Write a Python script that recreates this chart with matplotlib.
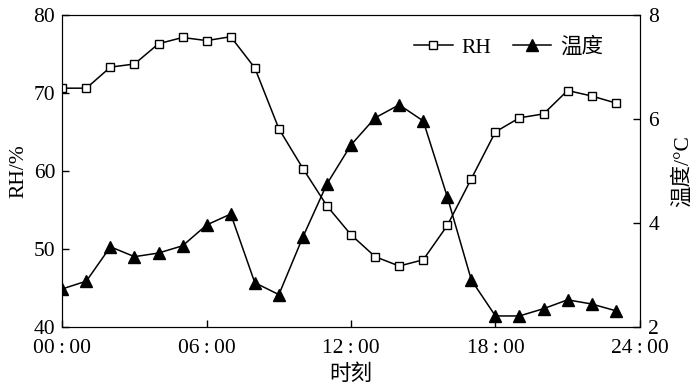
import matplotlib
matplotlib.use("Agg")
import matplotlib.pyplot as plt

plt.rcParams['font.family'] = ['Liberation Serif', 'Noto Sans CJK SC', 'DejaVu Serif']
plt.rcParams['font.size'] = 15.5

hours = list(range(24))
rh = [70.6, 70.6, 73.3, 73.7, 76.3, 77.1, 76.7, 77.2, 73.2, 65.4, 60.3, 55.5,
      51.8, 49.0, 47.8, 48.6, 53.0, 59.0, 65.0, 66.8, 67.3, 70.3, 69.6, 68.7]
temp = [2.73, 2.88, 3.54, 3.35, 3.42, 3.56, 3.96, 4.17, 2.85, 2.62, 3.73, 4.75,
        5.50, 6.02, 6.27, 5.96, 4.50, 2.90, 2.21, 2.21, 2.35, 2.52, 2.44, 2.31]
xticks = [0, 6, 12, 18, 24]
xlabels = ["00\u2009:\u200900", "06\u2009:\u200900", "12\u2009:\u200900",
           "18\u2009:\u200900", "24\u2009:\u200900"]

fig = plt.figure(figsize=(7, 3.91), dpi=100)
ax = fig.add_axes([0.089, 0.164, 0.825, 0.798])
ax2 = ax.twinx()

l1, = ax.plot(hours, rh, color='black', lw=1.1, marker='s', ms=6.2,
              mfc='white', mec='black', mew=1.0, label='RH', zorder=3)
l2, = ax2.plot(hours, temp, color='black', lw=1.1, marker='^', ms=8.5,
               mfc='black', mec='black', label='温度')

ax.set_xlim(0, 24)
ax.set_ylim(40, 80)
ax2.set_ylim(2, 8)
ax.set_xticks(xticks)
ax.set_xticklabels(xlabels)
ax.set_yticks([40, 50, 60, 70, 80])
ax2.set_yticks([2, 4, 6, 8])
ax.tick_params(direction='in', length=5, width=1)
ax2.tick_params(direction='in', length=5, width=1)
ax.tick_params(axis='x', pad=9)
ax.tick_params(axis='y', pad=5)
ax2.tick_params(axis='y', pad=6)

ax.set_xlabel("时刻", labelpad=4)
ax.set_ylabel("RH/%", labelpad=4)
ax2.set_ylabel("温度/°C", labelpad=10)

ax.legend(handles=[l1, l2], loc='upper right', ncol=2, frameon=False,
          handlelength=1.8, columnspacing=1.0, handletextpad=0.4,
          bbox_to_anchor=(0.97, 0.99))

fig.savefig("out.png", dpi=100)
